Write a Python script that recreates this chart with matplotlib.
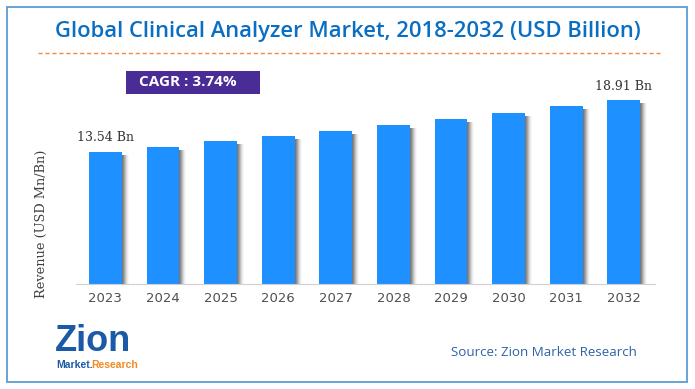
"""
Global Clinical Analyzer Market, 2018-2032 - gráfico de barras estilo Zion.
"""

import matplotlib
matplotlib.use("Agg")

import matplotlib.pyplot as plt
from matplotlib.patches import Rectangle
from matplotlib.lines import Line2D

# Datos
years = ["2023", "2024", "2025", "2026", "2027",
         "2028", "2029", "2030", "2031", "2032"]
revenue = [13.54, 14.05, 14.62, 15.18, 15.69,
           16.28, 16.90, 17.52, 18.22, 18.91]
first_label = "13.54 Bn"
last_label = "18.91 Bn"
cagr_text = "CAGR : 3.74%"
title = "Global Clinical Analyzer Market, 2018-2032 (USD Billion)"

W, H = 695, 389
fig = plt.figure(figsize=(W / 100, H / 100), dpi=100)


def fx(px):
    return px / W


def fy(py):
    return 1 - py / H


# marco exterior
fig.patches.append(Rectangle((fx(7), fy(382)), fx(680), 375 / H,
                             transform=fig.transFigure, fill=False,
                             edgecolor="#5b9bd5", lw=1.3))

# título y línea discontinua
fig.text(0.5, fy(32), title, ha="center", va="center",
         fontsize=15.8, color="#0a6fc2", family="Open Sans",
         fontweight="semibold")
fig.add_artist(Line2D([fx(38), fx(660)], [fy(53), fy(53)],
                      transform=fig.transFigure, color="#f0883e",
                      lw=1.0, ls=(0, (3, 2))))

# caja CAGR
fig.patches.append(Rectangle((fx(126), fy(94)), fx(134), 23 / H,
                             transform=fig.transFigure,
                             facecolor="#4a2c96", edgecolor="none"))
fig.text(fx(188), fy(82.5), cagr_text, ha="center", va="center",
         fontsize=11, color="white", family="Open Sans",
         fontweight="bold")

# ejes con las barras
ax = fig.add_axes([fx(76), fy(284), fx(655 - 76), 194 / H])
x = list(range(len(years)))
step = 1 / 57.6  # un pixel en unidades de datos

# sombra gris a la derecha de cada barra
for k, a in zip(range(1, 8), [0.35, 0.3, 0.25, 0.18, 0.12, 0.07, 0.04]):
    ax.bar([i + k * step for i in x], [v - 0.3 for v in revenue],
           width=0.57, color="#555555", alpha=a, zorder=1)
ax.bar(x, revenue, width=0.57, color="#1e90ff", zorder=2)

ax.set_xlim(-0.51, 9.54)
ax.set_ylim(0, 19.9)
ax.set_xticks(x)
ax.set_xticklabels(years, fontsize=9.5, color="#505050", family="DejaVu Sans")
ax.tick_params(axis="x", length=0, pad=6)
ax.set_yticks([])
for s in ["top", "right", "left"]:
    ax.spines[s].set_visible(False)
ax.spines["bottom"].set_color("#d0d0d0")
ax.set_ylabel("Revenue (USD Mn/Bn)", family="DejaVu Serif", fontsize=9.3,
              color="#404040")
ax.yaxis.set_label_coords(-0.048, 0.31)

ax.annotate(first_label, (x[0], revenue[0]), xytext=(0, 6),
            textcoords="offset points", ha="center", va="bottom",
            fontsize=9, family="DejaVu Serif", color="#333333")
ax.annotate(last_label, (x[-1], revenue[-1]), xytext=(0, 5),
            textcoords="offset points", ha="center", va="bottom",
            fontsize=9, family="DejaVu Serif", color="#333333")

# logo Zion (texto)
fig.text(fx(55), fy(351), "Zion", ha="left", va="baseline", fontsize=26,
         fontweight="bold", color="#1a5aa6", family="Liberation Sans")
fig.text(fx(56), fy(368), "Market.", ha="left", va="baseline", fontsize=7.5,
         fontweight="bold", color="#1a5aa6", family="Liberation Sans")
fig.text(fx(91), fy(368), "Research", ha="left", va="baseline", fontsize=7.5,
         fontweight="bold", color="#f08a24", family="Liberation Sans")

fig.text(fx(544), fy(353), "Source: Zion Market Research", ha="center",
         va="center", fontsize=9.6, color="#2e64a6", family="Open Sans")

fig.savefig("out.png", dpi=100)
